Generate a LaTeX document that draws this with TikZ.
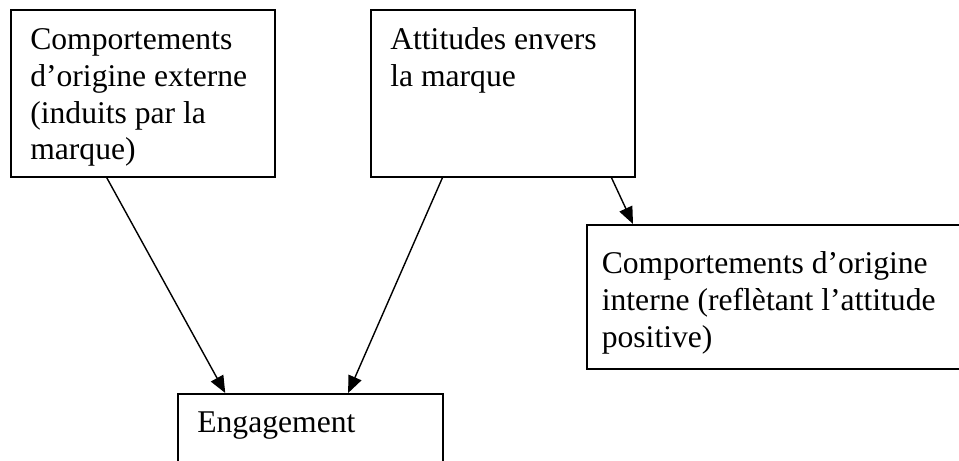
\documentclass[tikz,border=0pt]{standalone}
\usepackage{fontspec}
\setmainfont{Liberation Serif}
\usepackage{tikz}
\usetikzlibrary{arrows.meta, positioning, calc}

\tikzset{
    bloc/.style={draw=black, line width=0.9pt, anchor=north west, align=flush left,
        inner ysep=0pt, inner xsep=0.39cm, font=\fontsize{18}{20.9}\selectfont},
    fleche/.style={-{Triangle[length=0.34cm, width=0.28cm]}, line width=0.8pt}
}

\begin{document}
\begin{tikzpicture}[scale=1.0]
        % Page frame (boxes C and D run past the edge)
        \clip (0, 0) rectangle (19.18, 9.22);

        % Top boxes
        \node[bloc, text width=4.5cm, text height=0.8cm, text depth=2.54cm] (compExt) at (0.20, 9.04)
            {Comportements\\d’origine externe\\(induits par la\\marque)};
        \node[bloc, text width=4.5cm, text height=0.8cm, text depth=2.54cm] (attit) at (7.40, 9.04)
            {Attitudes envers\\la marque};

        % Right box
        \node[bloc, inner xsep=0.3cm, text width=7.3cm, text height=0.98cm, text depth=1.9cm] (compInt) at (11.72, 4.74)
            {Comportements d’origine\\interne (reflètant l’attitude\\positive)};

        % Bottom box
        \node[bloc, text width=4.52cm, text height=0.78cm, text depth=1.6cm] (engag) at (3.54, 1.36)
            {Engagement};

        % Arrows
        \draw[fleche] ($(compExt.south west)!0.364!(compExt.south east)$)
            -- ($(engag.north west)!0.181!(engag.north east)$);
        \draw[fleche] ($(attit.south west)!0.273!(attit.south east)$)
            -- ($(engag.north west)!0.642!(engag.north east)$);
        \draw[fleche] ($(attit.south west)!0.909!(attit.south east)$)
            -- ($(compInt.north west)+(0.94, 0)$);
    \end{tikzpicture}
\end{document}
